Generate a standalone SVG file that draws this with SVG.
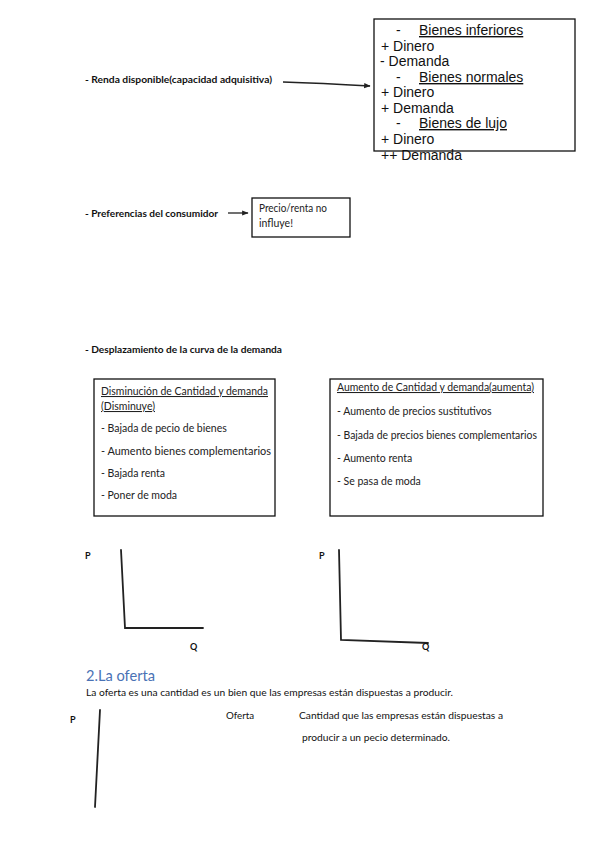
<svg xmlns="http://www.w3.org/2000/svg" width="600" height="848" viewBox="0 0 600 848">
<style>
.a{font-family:"Liberation Sans",Arial,sans-serif;font-size:14px;fill:#111}
.u{text-decoration:underline}
.s{font-family:Lato,"Open Sans",sans-serif;font-size:9px;font-weight:bold;fill:#111}
.n{font-family:Lato,"Open Sans",sans-serif;font-size:9.5px;fill:#111}
.b{font-family:Lato,"Open Sans",sans-serif;font-size:10.5px;fill:#222}
.box{fill:#fff;stroke:#111;stroke-width:1.3}
.ax{fill:none;stroke:#222;stroke-width:1.8;stroke-linecap:round}
.c{fill:none;stroke:#222;stroke-width:1.3}
.t{font-family:Lato,"Open Sans",sans-serif;font-size:15px;fill:#4a72b5}
</style>
<defs>
<marker id="ah" viewBox="0 0 10 10" refX="9" refY="5" markerWidth="5" markerHeight="5" orient="auto">
<path d="M0,1 L10,5 L0,9 z" fill="#222"/>
</marker>
</defs>

<g id="renda-label">
<text class="s" x="85" y="83" textLength="187" lengthAdjust="spacingAndGlyphs">- Renda disponible(capacidad adquisitiva)</text>
</g>

<g id="bienes-box">
<rect class="box" x="374" y="19" width="201" height="132"/>
<text class="a" x="396" y="35">-</text>
<text class="a u" x="419" y="35">Bienes inferiores</text>
<text class="a" x="381" y="51">+ Dinero</text>
<text class="a" x="380" y="66">- Demanda</text>
<text class="a" x="396" y="82">-</text>
<text class="a u" x="419" y="82">Bienes normales</text>
<text class="a" x="381" y="97">+ Dinero</text>
<text class="a" x="381" y="113">+ Demanda</text>
<text class="a" x="396" y="128">-</text>
<text class="a u" x="419" y="128">Bienes de lujo</text>
<text class="a" x="381" y="144">+ Dinero</text>
<text class="a" x="381" y="160">++ Demanda</text>
</g>

<g id="preferencias-label">
<text class="s" x="85" y="217" textLength="133" lengthAdjust="spacingAndGlyphs">- Preferencias del consumidor</text>
</g>

<g id="precio-box">
<rect class="box" x="252" y="198" width="98" height="39"/>
<text class="b" x="259" y="212" textLength="68" lengthAdjust="spacingAndGlyphs">Precio/renta no</text>
<text class="b" x="259" y="227">influye!</text>
</g>

<g id="connectors">
<path class="c" d="M283,82 Q320,83 370,86" marker-end="url(#ah)"/>
<path class="c" d="M228,213 L248,213" marker-end="url(#ah)"/>
</g>

<g id="desplazamiento-label">
<text class="s" x="85" y="353" textLength="197" lengthAdjust="spacingAndGlyphs">- Desplazamiento de la curva de la demanda</text>
</g>

<g id="disminucion-box">
<rect class="box" x="94" y="379" width="181" height="137"/>
<text class="b u" x="101" y="395" textLength="167" lengthAdjust="spacingAndGlyphs">Disminución de Cantidad y demanda</text>
<text class="b u" x="101" y="410">(Disminuye)</text>
<text class="b" x="101" y="432">- Bajada de pecio de bienes</text>
<text class="b" x="101" y="455" textLength="170" lengthAdjust="spacingAndGlyphs">- Aumento bienes complementarios</text>
<text class="b" x="101" y="477">- Bajada renta</text>
<text class="b" x="101" y="499">- Poner de moda</text>
</g>

<g id="aumento-box">
<rect class="box" x="330" y="379" width="213" height="137"/>
<text class="b u" x="337" y="391" textLength="197" lengthAdjust="spacingAndGlyphs">Aumento de Cantidad y demanda(aumenta)</text>
<text class="b" x="337" y="415">- Aumento de precios sustitutivos</text>
<text class="b" x="337" y="439" textLength="200" lengthAdjust="spacingAndGlyphs">- Bajada de precios bienes complementarios</text>
<text class="b" x="337" y="462">- Aumento renta</text>
<text class="b" x="337" y="485">- Se pasa de moda</text>
</g>

<g id="graph-1">
<text class="s" x="85" y="559">P</text>
<path class="ax" d="M121,550 L125,628 L203,628"/>
<text class="s" x="190" y="650">Q</text>
</g>

<g id="graph-2">
<text class="s" x="319" y="559">P</text>
<path class="ax" d="M339,550 L341,640 L428,643"/>
<text class="s" x="422" y="650">Q</text>
</g>

<g id="oferta-section">
<text class="t" x="86" y="681" textLength="69" lengthAdjust="spacingAndGlyphs">2.La oferta</text>
<text class="n" x="86" y="696" textLength="367" lengthAdjust="spacingAndGlyphs">La oferta es una cantidad es un bien que las empresas están dispuestas a producir.</text>
<text class="s" x="70" y="723">P</text>
<path class="ax" d="M100,710 L95,807"/>
<text class="n" x="226" y="719" textLength="28" lengthAdjust="spacingAndGlyphs">Oferta</text>
<text class="n" x="299" y="719" textLength="204" lengthAdjust="spacingAndGlyphs">Cantidad que las empresas están dispuestas a</text>
<text class="n" x="302" y="741" textLength="148" lengthAdjust="spacingAndGlyphs">producir a un pecio determinado.</text>
</g>
</svg>
